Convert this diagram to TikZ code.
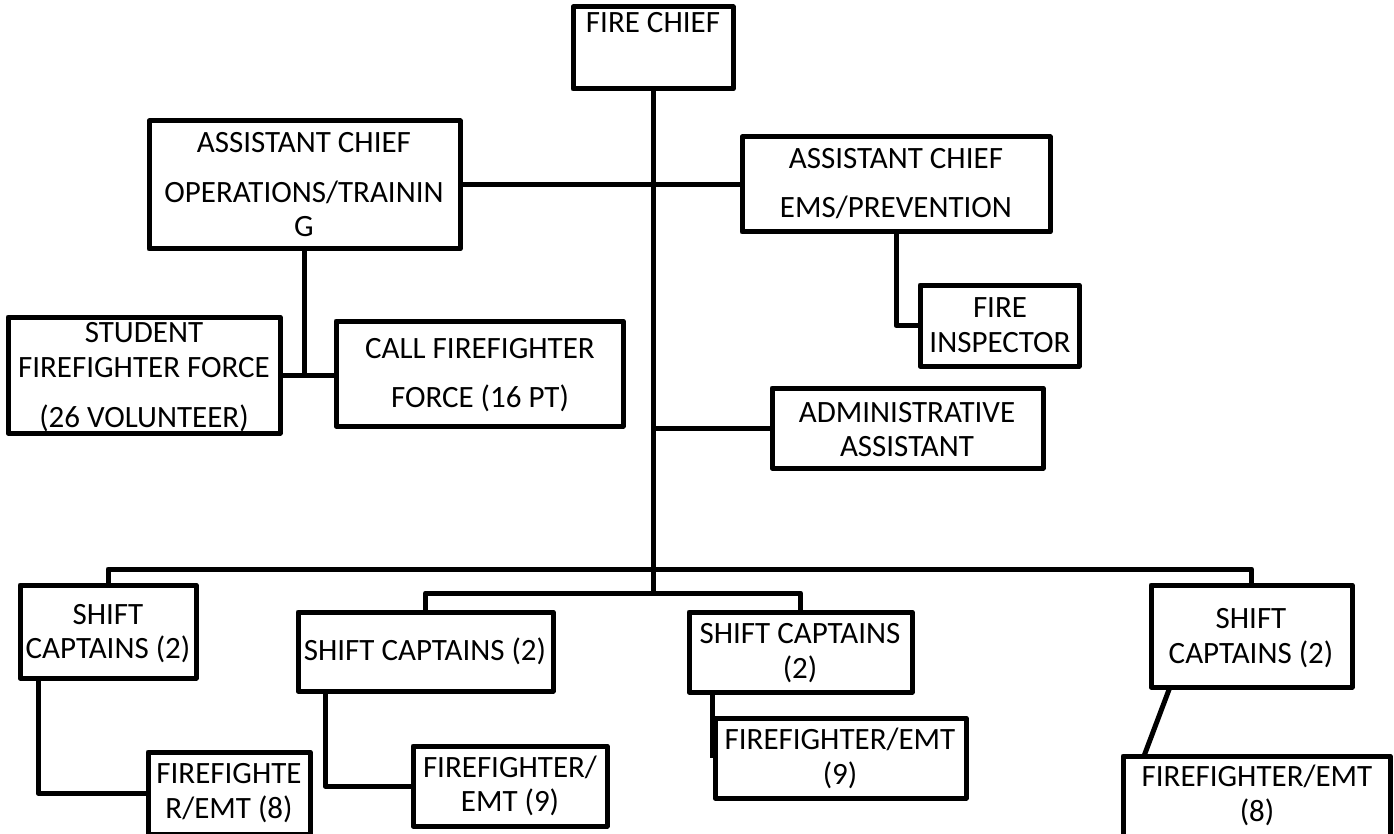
\documentclass[tikz,border=0pt]{standalone}
\usepackage{fontspec}
\setmainfont{Carlito}
\begin{document}
\begin{tikzpicture}[x=1pt,y=-1pt,
  orgframe/.style={draw=black,line width=5pt,line join=round,fill=white,inner sep=0pt,outer sep=0pt},
  conn/.style={draw=black,line width=5pt,line join=round},
  tl/.style={anchor=base,inner sep=0pt,font=\fontsize{31}{37}\selectfont}]
\useasboundingbox[fill=white] (0,0) rectangle (1394,834);

% box from its corners: name, x1, y1, x2, y2
\newcommand\orgbox[5]{%
  \node[orgframe,minimum width={#4-#2},minimum height={#5-#3}] (#1) at ({(#2+#4)/2},{(#3+#5)/2}) {};}
% one line of text on its baseline: name, x, y, text
\newcommand\tline[4]{\node[tl] (#1) at (#2,#3) {#4};}

% junction points of the chart
\coordinate (tb) at (653,593);
\coordinate (bus) at (653,569);
\coordinate (c3) at (712,758);

% main trunk (drawn first, boxes sit over it)
\orgbox{chief}{573}{7}{733}{89}
\draw[conn] (chief.south) -- (tb);

% boxes
\orgbox{ops}{149}{121}{460}{249}
\orgbox{ems}{742}{137}{1050}{232}
\orgbox{insp}{920}{285}{1079}{366}
\orgbox{stud}{8}{317}{280}{433}
\orgbox{call}{336}{321}{623}{426}
\orgbox{admin}{772}{388}{1043}{468}
\orgbox{sca}{20}{585}{196}{678}
\orgbox{scb}{298}{612}{553}{691}
\orgbox{scc}{689}{612}{912}{692}
\orgbox{scd}{1151}{585}{1352}{687}
\orgbox{ffa}{148}{752}{310}{834}
\orgbox{ffb}{413}{746}{607}{826}
\orgbox{ffc}{715}{718}{966}{798}
\orgbox{ffd}{1123}{756}{1390}{840}

% connectors
\draw[conn] (ops.east) -- (ops.east -| chief.south);
\draw[conn] (ems.west) -- (ems.west -| chief.south);
\draw[conn] (admin.west) -- (admin.west -| chief.south);
\coordinate (jn) at (ops.south |- stud.east);
\draw[conn] (ops.south) -- (jn);
\draw[conn] (stud.east) -- (stud.east -| call.west);
\draw[conn] (ems.south) |- (insp.west);
\draw[conn] (sca.north) |- (bus) -| (scd.north);
\draw[conn] (scb.north) |- (tb) -| (scc.north);
\draw[conn] ([xshift=18pt]sca.south west) |- (ffa.west);
\draw[conn] ([xshift=27pt]scb.south west) |- (ffb.west);
\draw[conn] ([xshift=23pt]scc.south west) -- (c3);
\draw[conn] ([xshift=19pt]scd.south west) -- ([xshift=21pt]ffd.north west);

% labels
\tline{t1}{653}{33}{FIRE CHIEF}
\tline{t2}{304}{153}{ASSISTANT CHIEF}
\tline{t3}{304}{203}{OPERATIONS/TRAININ}
\tline{t4}{304}{237}{G}
\tline{t5}{896}{169}{ASSISTANT CHIEF}
\tline{t6}{896}{218}{EMS/PREVENTION}
\tline{t7}{1000}{317}{FIRE}
\tline{t8}{1000}{352}{INSPECTOR}
\tline{t9}{144}{342}{STUDENT}
\tline{t10}{144}{377}{FIREFIGHTER FORCE}
\tline{t11}{144}{427}{(26 VOLUNTEER)}
\tline{t12}{480}{358}{CALL FIREFIGHTER}
\tline{t13}{480}{407}{FORCE (16 PT)}
\tline{t14}{907}{422}{ADMINISTRATIVE}
\tline{t15}{907}{456}{ASSISTANT}
\tline{t16}{108}{624}{SHIFT}
\tline{t17}{108}{658}{CAPTAINS (2)}
\tline{t18}{425}{660}{SHIFT CAPTAINS (2)}
\tline{t19}{800}{643}{SHIFT CAPTAINS}
\tline{t20}{800}{678}{(2)}
\tline{t21}{1251}{628}{SHIFT}
\tline{t22}{1251}{663}{CAPTAINS (2)}
\tline{t23}{229}{783}{FIREFIGHTE}
\tline{t24}{229}{818}{R/EMT (8)}
\tline{t25}{510}{777}{FIREFIGHTER/}
\tline{t26}{510}{811}{EMT (9)}
\tline{t27}{840}{749}{FIREFIGHTER/EMT}
\tline{t28}{840}{784}{(9)}
\tline{t29}{1257}{786}{FIREFIGHTER/EMT}
\tline{t30}{1257}{821}{(8)}
\end{tikzpicture}
\end{document}
